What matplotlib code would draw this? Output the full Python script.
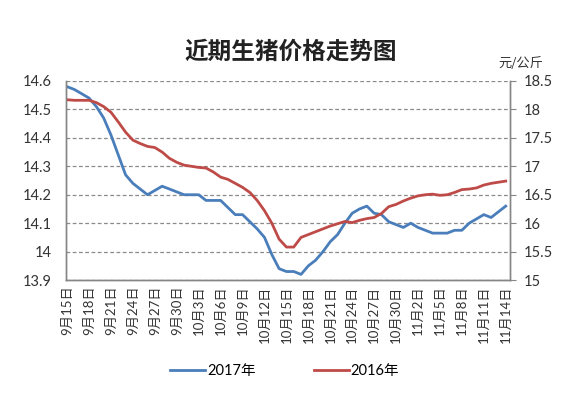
import matplotlib
matplotlib.use("Agg")
import matplotlib.pyplot as plt
import numpy as np

plt.rcParams["font.family"] = ["Lato", "Noto Sans CJK SC", "DejaVu Sans"]

# daily prices from 9/15 to 11/14
days = np.arange(61)
tick_labels = ["9月15日", "9月18日", "9月21日", "9月24日", "9月27日", "9月30日",
               "10月3日", "10月6日", "10月9日", "10月12日", "10月15日", "10月18日",
               "10月21日", "10月24日", "10月27日", "10月30日", "11月2日", "11月5日",
               "11月8日", "11月11日", "11月14日"]

price_2017 = [14.58, 14.57, 14.555, 14.54, 14.51, 14.47, 14.41, 14.34, 14.27, 14.24,
              14.22, 14.20, 14.215, 14.23, 14.22, 14.21, 14.20, 14.20, 14.20, 14.18,
              14.18, 14.18, 14.155, 14.13, 14.13, 14.105, 14.08, 14.05, 13.99, 13.94,
              13.93, 13.93, 13.92, 13.95, 13.97, 14.00, 14.035, 14.06, 14.10, 14.135,
              14.15, 14.16, 14.135, 14.13, 14.105, 14.095, 14.085, 14.10, 14.085, 14.075,
              14.065, 14.065, 14.065, 14.075, 14.075, 14.10, 14.115, 14.13, 14.12, 14.14,
              14.16]

price_2016 = [18.17, 18.16, 18.16, 18.16, 18.12, 18.05, 17.95, 17.78, 17.60, 17.46,
              17.40, 17.35, 17.33, 17.25, 17.14, 17.07, 17.02, 17.00, 16.98, 16.97,
              16.90, 16.81, 16.77, 16.70, 16.63, 16.54, 16.40, 16.22, 16.00, 15.72,
              15.58, 15.58, 15.75, 15.80, 15.85, 15.90, 15.95, 15.99, 16.03, 16.01,
              16.05, 16.08, 16.10, 16.17, 16.29, 16.33, 16.39, 16.44, 16.48, 16.50,
              16.51, 16.49, 16.50, 16.54, 16.59, 16.60, 16.62, 16.67, 16.70, 16.72,
              16.74]

blue = "#4a7ebb"
red = "#be4b48"
grey = "#868686"

fig = plt.figure(figsize=(5.81, 3.95), dpi=100)
ax = fig.add_axes([0.1136, 0.291, 0.7644, 0.504])
ax2 = ax.twinx()

l1, = ax.plot(days, price_2017, color=blue, lw=2.0, label="2017年")
l2, = ax2.plot(days, price_2016, color=red, lw=2.0, label="2016年")

ax.set_xlim(-0.15, 60.6)
ax.set_ylim(13.9, 14.6)
ax.set_yticks(np.arange(13.9, 14.61, 0.1))
ax.set_yticklabels(["13.9", "14", "14.1", "14.2", "14.3", "14.4", "14.5", "14.6"])
ax2.set_ylim(15, 18.5)
ax2.set_yticks(np.arange(15, 18.51, 0.5))
ax2.set_yticklabels(["15", "15.5", "16", "16.5", "17", "17.5", "18", "18.5"])

ax.set_xticks(days[::3])
ax.set_xticklabels(tick_labels, rotation=90, fontsize=9.5, color="#333333")

ax.grid(axis="y", ls=(0, (3, 2)), color="#8a8a8a", lw=0.9)
for a in (ax, ax2):
    a.spines["top"].set_visible(False)
    for s in ("left", "right", "bottom"):
        a.spines[s].set_color(grey)
        a.spines[s].set_linewidth(1.0)
ax.tick_params(axis="y", length=0, labelsize=10.5, colors="#333333", pad=10)
ax.tick_params(axis="x", length=0, pad=4)
ax2.tick_params(axis="y", length=4, color=grey, labelsize=10.5, labelcolor="#333333", pad=6)

fig.text(0.5, 0.868, "近期生猪价格走势图", ha="center", va="center",
         fontsize=17, fontweight="bold", family=["Noto Sans CJK SC"], color="#222222")
fig.text(0.897, 0.84, "元/公斤", ha="center", va="center", fontsize=9.5,
         family=["Noto Sans CJK SC"], color="#333333")

fig.legend(handles=[l1, l2], loc="center", bbox_to_anchor=(0.49, 0.06), ncol=2,
           frameon=False, fontsize=10.5, handlelength=2.4, handletextpad=0.1,
           columnspacing=4.0)

fig.savefig("out.png", dpi=100)
